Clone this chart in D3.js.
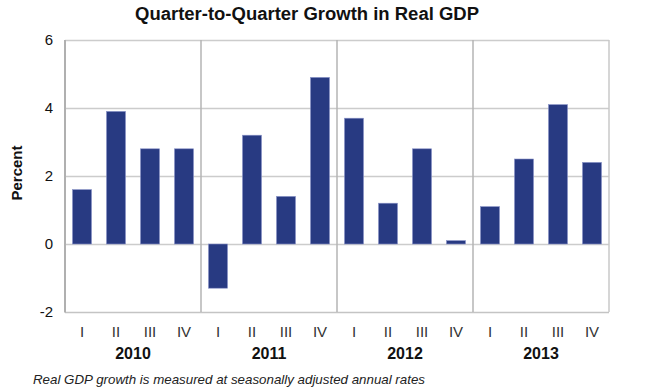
<!DOCTYPE html>
<html><head><meta charset="utf-8">
<script src="https://cdn.jsdelivr.net/npm/d3@7"></script>
<style>body{margin:0;background:#fff}svg{display:block}</style>
</head><body>
<script>
const years = ["2010","2011","2012","2013"];
const quarters = ["I","II","III","IV"];
const values = [1.6,3.9,2.8,2.8, -1.3,3.2,1.4,4.9, 3.7,1.2,2.8,0.1, 1.1,2.5,4.1,2.4];
const yTicks = [-2,0,2,4,6];

const W=660,H=390, L=65, R=609, T=40, B=312;
const font="Liberation Sans, Arial, sans-serif";
const svg=d3.select("body").append("svg").attr("width",W).attr("height",H);

const data = values.map((v,i)=>({i, v, q:quarters[i%4], y:years[Math.floor(i/4)]}));
const x=d3.scaleBand().domain(d3.range(values.length)).range([L,R]).paddingInner(0.44).paddingOuter(0.22);
const y=d3.scaleLinear().domain([-2,6]).range([B,T]);
const step=x.step();

// horizontal gridlines
svg.append("g").selectAll("line").data(yTicks).join("line")
  .attr("x1",L).attr("x2",R).attr("y1",d=>y(d)+0.5).attr("y2",d=>y(d)+0.5)
  .attr("stroke",d=>d===-2?"#c4c4c4":"#cccccc").attr("stroke-width",1.5);

// year dividers
svg.append("g").selectAll("line").data(d3.range(1,years.length+1)).join("line")
  .attr("x1",d=>x(d*4-1)+x.bandwidth()+step*0.22).attr("x2",d=>x(d*4-1)+x.bandwidth()+step*0.22)
  .attr("y1",T).attr("y2",B)
  .attr("stroke",d=>d===years.length?"#c8c8c8":"#b4b4b4").attr("stroke-width",1.5);

// left axis line
svg.append("line").attr("x1",L).attr("x2",L).attr("y1",T).attr("y2",B+0.5)
  .attr("stroke","#b0b0b0").attr("stroke-width",2);

// bars
svg.append("g").selectAll("rect").data(data).join("rect")
  .attr("x",d=>x(d.i)).attr("width",x.bandwidth())
  .attr("y",d=>y(Math.max(0,d.v))).attr("height",d=>Math.abs(y(d.v)-y(0)))
  .attr("fill","#283a82").attr("stroke","#8a93c8").attr("stroke-width",0.6);

// y tick labels
svg.append("g").selectAll("text").data(yTicks).join("text")
  .attr("x",53).attr("y",d=>y(d)+5).attr("text-anchor","end")
  .attr("font-family",font).attr("font-size",15).attr("fill","#111").text(d=>d);

// quarter labels
svg.append("g").selectAll("text").data(data).join("text")
  .attr("x",d=>x(d.i)+x.bandwidth()/2).attr("y",337).attr("text-anchor","middle")
  .attr("font-family",font).attr("font-size",15).attr("fill","#333").text(d=>d.q);

// year labels
svg.append("g").selectAll("text").data(years).join("text")
  .attr("x",(d,k)=>(x(k*4)+x(k*4+3)+x.bandwidth())/2).attr("y",359).attr("text-anchor","middle")
  .attr("font-family",font).attr("font-size",16).attr("font-weight","bold").attr("fill","#111").text(d=>d);

// y axis title
svg.append("text").attr("transform","translate(22,173) rotate(-90)").attr("text-anchor","middle")
  .attr("font-family",font).attr("font-size",15).attr("font-weight","bold").attr("fill","#111").text("Percent");

// title
svg.append("text").attr("x",135).attr("y",20)
  .attr("font-family",font).attr("font-size",18.3).attr("font-weight","bold").attr("fill","#111")
  .attr("textLength",344).attr("lengthAdjust","spacingAndGlyphs")
  .text("Quarter-to-Quarter Growth in Real GDP");

// footnote
svg.append("text").attr("x",33).attr("y",384)
  .attr("font-family",font).attr("font-size",13).attr("font-style","italic").attr("fill","#222")
  .attr("textLength",392).attr("lengthAdjust","spacingAndGlyphs")
  .text("Real GDP growth is measured at seasonally adjusted annual rates");
</script>
</body></html>
